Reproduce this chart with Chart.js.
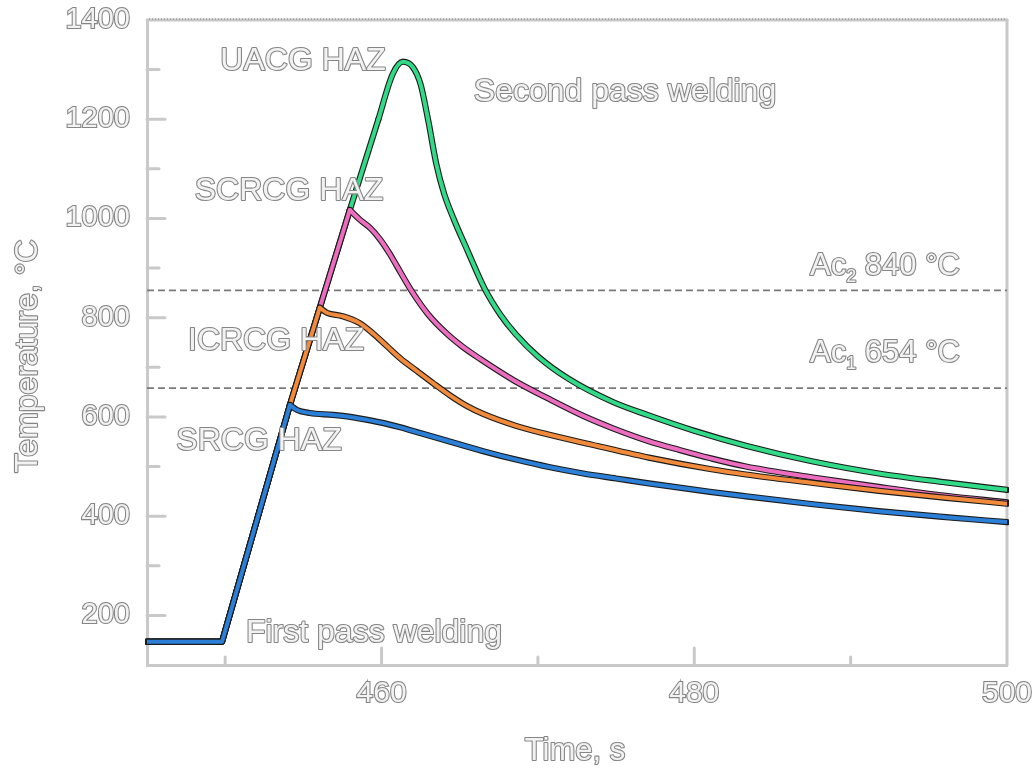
<!DOCTYPE html>
<html><head><meta charset="utf-8">
<script src="https://cdn.jsdelivr.net/npm/chart.js@4.4.0/dist/chart.umd.min.js"></script>
<style>html,body{margin:0;padding:0;background:#fff}#wrap{width:1035px;height:769px;position:relative}</style>
</head><body><div id="wrap"><canvas id="c"></canvas></div>
<script>
// ---- data ----
const rampTime = [445, 449.8, 454.14, 456.05, 457.97];
const rampTemp = [147, 147, 624, 820, 1017];

const srcgTime = [454.14, 454.6, 455.4, 456.9, 458.0, 459.1, 460.2, 461.2, 462.3, 463.3, 464.4, 466.5, 468.6, 470.7, 472.9, 475.0, 477.1, 481.0, 483.3, 487.6, 491.8, 496.1, 500];
const srcgTemp = [624, 614, 608, 604, 600, 594, 587, 579, 569, 560, 550, 531, 514, 499, 486, 476, 466, 449, 440, 424, 410, 398, 388];

const icrcgTime = [456.05, 456.5, 457.5, 458.6, 459.5, 460.3, 461.2, 462.2, 463.3, 464.4, 465.4, 466.5, 468.6, 470.6, 472.9, 477.1, 481.0, 483.3, 487.6, 491.8, 496.1, 500];
const icrcgTemp = [820, 810, 803, 789, 767, 744, 718, 694, 668, 643, 623, 606, 582, 565, 548, 518, 495, 484, 467, 451, 437, 425];

const scrcgTime = [457.97, 458.6, 459.3, 459.9, 460.5, 461.0, 462.0, 463.0, 464.2, 465.2, 466.3, 468.5, 470.6, 472.9, 474.8, 477.1, 479.1, 481.0, 483.3, 487.6, 491.8, 496.1, 500];
const scrcgTemp = [1017, 998, 980, 958, 930, 903, 850, 806, 767, 741, 717, 673, 638, 602, 577, 551, 533, 517, 500, 478, 459, 441, 428];

const uacgTime = [459.8, 460.7, 461.36, 462.0, 462.5, 463.0, 463.5, 464.0, 464.6, 465.5, 466.6, 467.6, 468.6, 470.0, 472.0, 474.8, 477.0, 480.0, 483.3, 487.6, 491.8, 496.1, 500];
const uacgTemp = [1200, 1290, 1316, 1305, 1270, 1195, 1110, 1050, 1000, 935, 858, 806, 766, 722, 676, 630, 604, 572, 542, 510, 486, 468, 453];

const acLineTemps = [855, 658];
const acLabels = [['Ac', '2', ' 840 °C'], ['Ac', '1', ' 654 °C']];

const seriesNames = ['SRCG HAZ', 'ICRCG HAZ', 'SCRCG HAZ', 'UACG HAZ'];
const seriesColors = ['#2b7fd7', '#f28a3c', '#ec6dbf', '#30da86'];

const xTickValues = [460, 480, 500];
const xMajorMarks = [460, 480];
const xMinorMarks = [450, 470, 490];
const yTickValues = [200, 400, 600, 800, 1000, 1200, 1400];
const yMinorMarks = [300, 500, 700, 900, 1100, 1300];

// ---- helpers ----
const FONT = "'Liberation Sans', Arial, Helvetica, sans-serif";
const pts = (ts, vs) => ts.map((t, i) => ({x: t, y: vs[i]}));
const rampPts = n => pts(rampTime.slice(0, n), rampTemp.slice(0, n));

function lineDs(label, data, color, curved, outlineWith) {
  return {
    label, data, borderColor: color, backgroundColor: color, borderWidth: 4,
    pointRadius: 0, pointHoverRadius: 0, fill: false, tension: 0,
    cubicInterpolationMode: curved ? 'monotone' : 'default',
    borderJoinStyle: 'round', borderCapStyle: 'round', outlineWith
  };
}
function dashDs(label, v) {
  return {
    label, data: [{x: 445, y: v}, {x: 500, y: v}], borderColor: '#7a7a7a',
    borderWidth: 1.8, borderDash: [7, 4], pointRadius: 0, fill: false, tension: 0
  };
}

function hollowText(ctx, str, x, y, size, align) {
  ctx.font = size + 'px ' + FONT;
  ctx.textAlign = align || 'left';
  ctx.textBaseline = 'alphabetic';
  ctx.lineJoin = 'round';
  ctx.lineWidth = 2.2;
  ctx.strokeStyle = '#858585';
  ctx.strokeText(str, x, y);
  ctx.fillStyle = '#f2f2f2';
  ctx.fillText(str, x, y);
}

// ---- plugins ----
const outlinePlugin = {
  id: 'outline',
  beforeDatasetDraw(chart, args) {
    const ds = chart.data.datasets[args.index];
    if (!ds.outlineWith) return;
    const ctx = chart.ctx, a = chart.chartArea;
    ctx.save();
    ctx.beginPath();
    ctx.rect(a.left - 2, a.top - 4, a.right - a.left + 4, a.bottom - a.top + 8);
    ctx.clip();
    ds.outlineWith.forEach(i => {
      const line = chart.getDatasetMeta(i).dataset;
      if (!line) return;
      if (line.updateControlPoints) line.updateControlPoints(a, 'x');
      ctx.beginPath();
      line.path(ctx);
      ctx.lineWidth = chart.data.datasets[i].borderWidth + 2.2;
      ctx.strokeStyle = '#1c1c1c';
      ctx.lineJoin = 'round';
      ctx.lineCap = 'round';
      ctx.stroke();
    });
    ctx.restore();
  }
};

const framePlugin = {
  id: 'frame',
  beforeDatasetsDraw(chart) {
    const {ctx, chartArea: a, scales: {x, y}} = chart;
    const seg = (x1, y1, x2, y2) => { ctx.beginPath(); ctx.moveTo(x1, y1); ctx.lineTo(x2, y2); ctx.stroke(); };
    ctx.save();
    ctx.strokeStyle = '#c9c9c9';
    ctx.lineWidth = 3;
    ctx.lineCap = 'round';
    seg(a.right, a.top, a.right, a.bottom);
    seg(a.left, a.top, a.right, a.top);
    xMajorMarks.forEach(v => { const p = x.getPixelForValue(v); seg(p, a.bottom, p, a.bottom - 17); });
    xMinorMarks.forEach(v => { const p = x.getPixelForValue(v); seg(p, a.bottom, p, a.bottom - 8); });
    yTickValues.filter(v => v < 1400).forEach(v => { const p = y.getPixelForValue(v); seg(a.left, p, a.left + 18, p); });
    yMinorMarks.forEach(v => { const p = y.getPixelForValue(v); seg(a.left, p, a.left + 12, p); });
    ctx.lineCap = 'butt';
    ctx.lineWidth = 1;
    ctx.strokeStyle = '#777';
    ctx.setLineDash([1, 2]);
    seg(a.left + 2, a.top - 1, a.right, a.top - 1);
    ctx.restore();
  }
};

const textPlugin = {
  id: 'texts',
  afterDatasetsDraw(chart) {
    const ctx = chart.ctx;
    ctx.save();
    hollowText(ctx, seriesNames[3], 303, 70, 32, 'center');
    hollowText(ctx, seriesNames[2], 289, 200, 32, 'center');
    hollowText(ctx, seriesNames[1], 276, 350, 32, 'center');
    hollowText(ctx, seriesNames[0], 259, 450, 32, 'center');
    hollowText(ctx, 'Second pass welding', 625, 101, 32, 'center');
    hollowText(ctx, 'First pass welding', 374, 642, 32, 'center');
    const acBase = [275, 362];
    acLabels.forEach((parts, i) => {
      let xx = 810;
      const yy = acBase[i];
      hollowText(ctx, parts[0], xx, yy, 31, 'left');
      ctx.font = '31px ' + FONT; xx += ctx.measureText(parts[0]).width;
      hollowText(ctx, parts[1], xx, yy + 7, 18, 'left');
      ctx.font = '18px ' + FONT; xx += ctx.measureText(parts[1]).width;
      hollowText(ctx, parts[2], xx, yy, 31, 'left');
    });
    hollowText(ctx, 'Time, s', 575, 760, 31, 'center');
    ctx.save();
    ctx.translate(37, 356);
    ctx.rotate(-Math.PI / 2);
    hollowText(ctx, 'Temperature, °C', 0, 0, 32, 'center');
    ctx.restore();
    ctx.restore();
  }
};

Chart.defaults.font.family = FONT;

new Chart(document.getElementById('c'), {
  type: 'line',
  data: {
    datasets: [
      lineDs(seriesNames[0], pts(srcgTime, srcgTemp), seriesColors[0], true),
      lineDs(seriesNames[0] + ' heating', rampPts(3), seriesColors[0], false, [1, 0]),
      lineDs(seriesNames[1], pts(icrcgTime, icrcgTemp), seriesColors[1], true),
      lineDs(seriesNames[1] + ' heating', rampPts(4), seriesColors[1], false, [3, 2]),
      lineDs(seriesNames[2], pts(scrcgTime, scrcgTemp), seriesColors[2], true),
      lineDs(seriesNames[2] + ' heating', rampPts(5), seriesColors[2], false, [5, 4]),
      lineDs(seriesNames[3], pts(uacgTime, uacgTemp), seriesColors[3], true),
      lineDs(seriesNames[3] + ' heating', pts(rampTime.concat([uacgTime[0]]), rampTemp.concat([uacgTemp[0]])), seriesColors[3], false, [7, 6]),
      dashDs('Ac2', acLineTemps[0]),
      dashDs('Ac1', acLineTemps[1])
    ]
  },
  options: {
    responsive: true,
    maintainAspectRatio: false,
    animation: false,
    events: [],
    layout: {padding: {top: 20, right: 28, left: 0, bottom: 0}},
    plugins: {legend: {display: false}, tooltip: {enabled: false}, title: {display: false}},
    scales: {
      x: {
        type: 'linear', min: 445, max: 500,
        afterBuildTicks: s => { s.ticks = xTickValues.map(v => ({value: v})); },
        afterFit: s => { s.height = 104; s.paddingLeft = 0; s.paddingRight = 0; },
        grid: {display: false, drawTicks: false},
        border: {display: true, color: '#c9c9c9', width: 3},
        ticks: {padding: 11, color: '#f2f2f2', textStrokeColor: '#858585', textStrokeWidth: 2.2,
                font: {size: 30}, maxRotation: 0, autoSkip: false, callback: v => String(v)}
      },
      y: {
        type: 'linear', min: 100, max: 1400,
        afterBuildTicks: s => { s.ticks = yTickValues.map(v => ({value: v})); },
        afterFit: s => { s.width = 147; s.paddingTop = 0; s.paddingBottom = 0; },
        grid: {display: false, drawTicks: false},
        border: {display: true, color: '#c9c9c9', width: 3},
        ticks: {padding: 17, color: '#f2f2f2', textStrokeColor: '#858585', textStrokeWidth: 2.2,
                font: {size: 29}, autoSkip: false, callback: v => String(v)}
      }
    }
  },
  plugins: [outlinePlugin, framePlugin, textPlugin]
});
</script>
</body></html>
